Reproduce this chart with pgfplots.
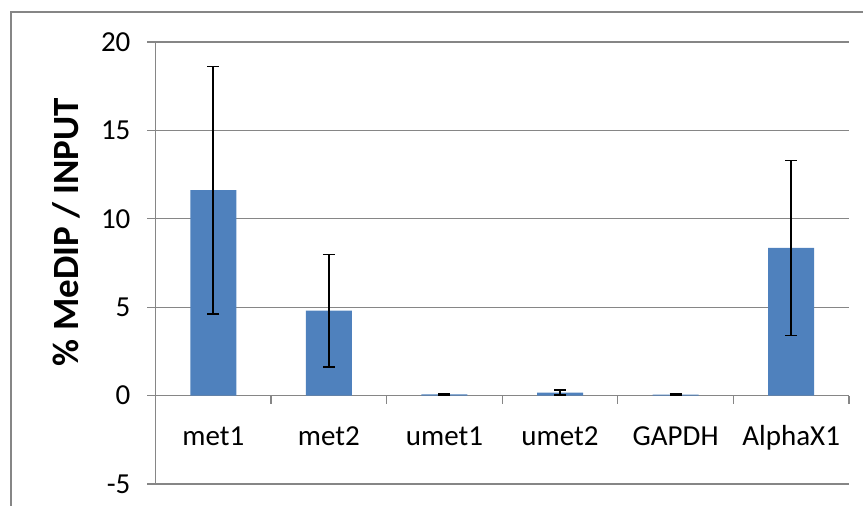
\documentclass[border=0pt]{standalone}
\usepackage{pgfplots}
\pgfplotsset{compat=1.18}
\usepackage{fontspec}
\setmainfont{Carlito}
\definecolor{barblue}{RGB}{79,129,189}
\definecolor{gridgray}{RGB}{134,134,134}
\begin{document}
\begin{tikzpicture}
\useasboundingbox (0,0) rectangle (431.5pt,253pt);
\draw[gridgray, line width=0.65pt] (5.5pt,-2pt) -- (5.5pt,247pt) -- (440pt,247pt);
\begin{axis}[
  at={(77.75pt,11pt)}, anchor=south west,
  scale only axis, width=346.75pt, height=221pt,
  xmin=-0.5, xmax=5.5, ymin=-5, ymax=20,
  axis x line*=middle, axis y line*=left,
  axis line style={gridgray, line width=0.65pt, -},
  ytick={-5,0,5,10,15,20},
  ymajorgrids, grid style={gridgray, line width=0.65pt},
  ytick align=outside, xtick align=outside,
  major tick length=4pt, minor tick length=4pt,
  tick style={gridgray, line width=0.65pt},
  xtick={0,1,2,3,4,5},
  xticklabels={met1,met2,umet1,umet2,GAPDH,AlphaX1},
  major x tick style={draw=none},
  minor xtick={-0.5,0.5,1.5,2.5,3.5,4.5,5.5},
  tick label style={font=\fontsize{14.5}{16}\selectfont, text=black},
  /pgf/number format/assume math mode=true,
  xticklabel style={anchor=base, yshift=-21pt},
  yticklabel style={anchor=east, xshift=-5pt},
  clip=false,
]
\addplot[ybar, bar width=23pt, fill=barblue, draw=none,
  error bars/.cd, y dir=both, y explicit,
  error bar style={black, line width=0.8pt},
  error mark options={black, line width=0.8pt, mark size=3pt, rotate=90}]
  coordinates {
  (0,11.62) +- (0,7.0)
  (1,4.80) +- (0,3.17)
  (2,0.07) +- (0,0.03)
  (3,0.17) +- (0,0.13)
  (4,0.06) +- (0,0.03)
  (5,8.35) +- (0,4.95)
  };
\end{axis}
\node[rotate=90, font=\bfseries\fontsize{18.5}{20}\selectfont] at (33pt,137pt) {\% MeDIP / INPUT};
\end{tikzpicture}
\end{document}
